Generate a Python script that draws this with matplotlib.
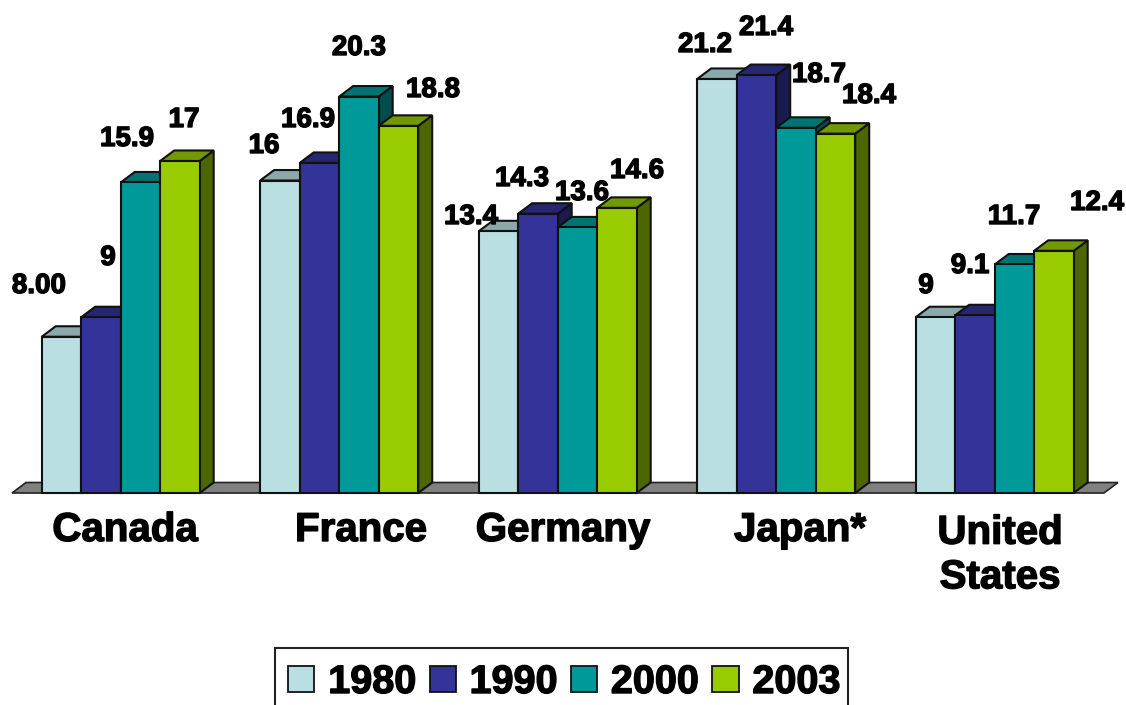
import matplotlib
matplotlib.use("Agg")
import matplotlib.pyplot as plt
import matplotlib.patheffects as pe
from matplotlib.patches import Polygon, Rectangle, Patch

countries = ["Canada", "France", "Germany", "Japan*", "United\nStates"]
years = ["1980", "1990", "2000", "2003"]
v1980 = [8.0, 16, 13.4, 21.2, 9]
v1990 = [9, 16.9, 14.3, 21.4, 9.1]
v2000 = [15.9, 20.3, 13.6, 18.7, 11.7]
v2003 = [17, 18.8, 14.6, 18.4, 12.4]
series = [v1980, v1990, v2000, v2003]
labels1980 = ["8.00", "16", "13.4", "21.2", "9"]
labels1990 = ["9", "16.9", "14.3", "21.4", "9.1"]
labels2000 = ["15.9", "20.3", "13.6", "18.7", "11.7"]
labels2003 = ["17", "18.8", "14.6", "18.4", "12.4"]
bar_labels = [labels1980, labels1990, labels2000, labels2003]

front = ["#B9DFE3", "#333399", "#009999", "#99CC00"]
top = ["#8BA8AB", "#262673", "#007373", "#739900"]
side = ["#5D7072", "#1A1A4D", "#004D4D", "#4D6600"]

W, H = 1126, 705
BASE_PX, PX_PER_UNIT = 493.0, 19.53
X0_PX, GROUP_PX, BAR_PX = 41.7, 218.5, 39.5
DX_PX, DY_PX = 14.0, 10.5

fig = plt.figure(figsize=(W / 100, H / 100), dpi=100)
ax = fig.add_axes([0, 0, 1, 1])
ax.set_xlim(-X0_PX / GROUP_PX, (W - X0_PX) / GROUP_PX)
ax.set_ylim((BASE_PX - H) / PX_PER_UNIT, BASE_PX / PX_PER_UNIT)
ax.axis("off")

dx = DX_PX / GROUP_PX
dy = DY_PX / PX_PER_UNIT
bw = BAR_PX / GROUP_PX
EDGE = dict(edgecolor="#111111", linewidth=1.5, joinstyle="miter")


def px(x, y):
    """pixel position in the picture -> data position"""
    return (x - X0_PX) / GROUP_PX, (BASE_PX - y) / PX_PER_UNIT


# floor
fx0 = px(12, 0)[0]
fx1 = px(1104, 0)[0]
ax.add_patch(Polygon([(fx0, 0), (fx0 + dx, dy), (fx1 + dx, dy), (fx1, 0)],
                     closed=True, facecolor="#808080", edgecolor="#222222", linewidth=1.2, zorder=1))

z = 2
for g in range(len(countries)):
    for s, vals in enumerate(series):
        x = g + s * bw
        v = vals[g]
        ax.add_patch(Polygon([(x + bw, 0), (x + bw + dx, dy), (x + bw + dx, v + dy), (x + bw, v)],
                             closed=True, facecolor=side[s], zorder=z, **EDGE))
        ax.add_patch(Polygon([(x, v), (x + dx, v + dy), (x + bw + dx, v + dy), (x + bw, v)],
                             closed=True, facecolor=top[s], zorder=z, **EDGE))
        ax.bar(x, v, width=bw, align="edge", color=front[s], zorder=z + 0.5, **EDGE)
        z += 1

# hand-placed label centres, in picture pixels, one row per year
label_px = [
    [(39, 286), (264, 146), (471, 217), (705, 45), (926, 286)],
    [(108, 258), (308, 120), (522, 179), (766, 28), (970, 266)],
    [(127, 139), (359, 48), (582, 193), (819, 75), (1014, 217)],
    [(184, 120), (433, 90), (637, 171), (869, 96), (1097, 203)],
]
stroke = [pe.withStroke(linewidth=1.0, foreground="black")]
FONT = "Liberation Sans"
for s in range(4):
    for g in range(5):
        xx, yy = px(*label_px[s][g])
        ax.text(xx, yy, bar_labels[s][g], ha="center", va="center", family=FONT, weight="bold",
                fontsize=20, color="black", zorder=200, path_effects=stroke)

cat_px = [(125, 530), (361, 530), (563, 530), (800, 530), (1000, 555)]
for name, p in zip(countries, cat_px):
    xx, yy = px(*p)
    ax.text(xx, yy, name, ha="center", va="center", family=FONT, weight="bold", fontsize=29,
            linespacing=1.22, color="black", zorder=200, path_effects=stroke)

# legend frame (runs off the bottom of the picture)
lx, ly = px(275, 714)
lx2, ly2 = px(848, 648)
ax.add_patch(Rectangle((lx, ly), lx2 - lx, ly2 - ly, facecolor="white", edgecolor="#222222",
                       linewidth=1.5, zorder=150, clip_on=False))
handles = [Patch(facecolor=c, edgecolor="#111111", linewidth=1.3) for c in front]
leg = ax.legend(handles, years, ncol=4, frameon=False, loc="center",
                bbox_to_anchor=(564.5 / W, 1 - 682 / H), bbox_transform=fig.transFigure,
                prop=dict(family=FONT, weight="bold", size=28.5),
                handlelength=0.66, handleheight=0.63, handletextpad=0.35,
                columnspacing=0.33, borderpad=0, borderaxespad=0)
leg.set_zorder(210)
for t in leg.get_texts():
    t.set_path_effects(stroke)

fig.savefig("out.png", dpi=100, facecolor="white")
